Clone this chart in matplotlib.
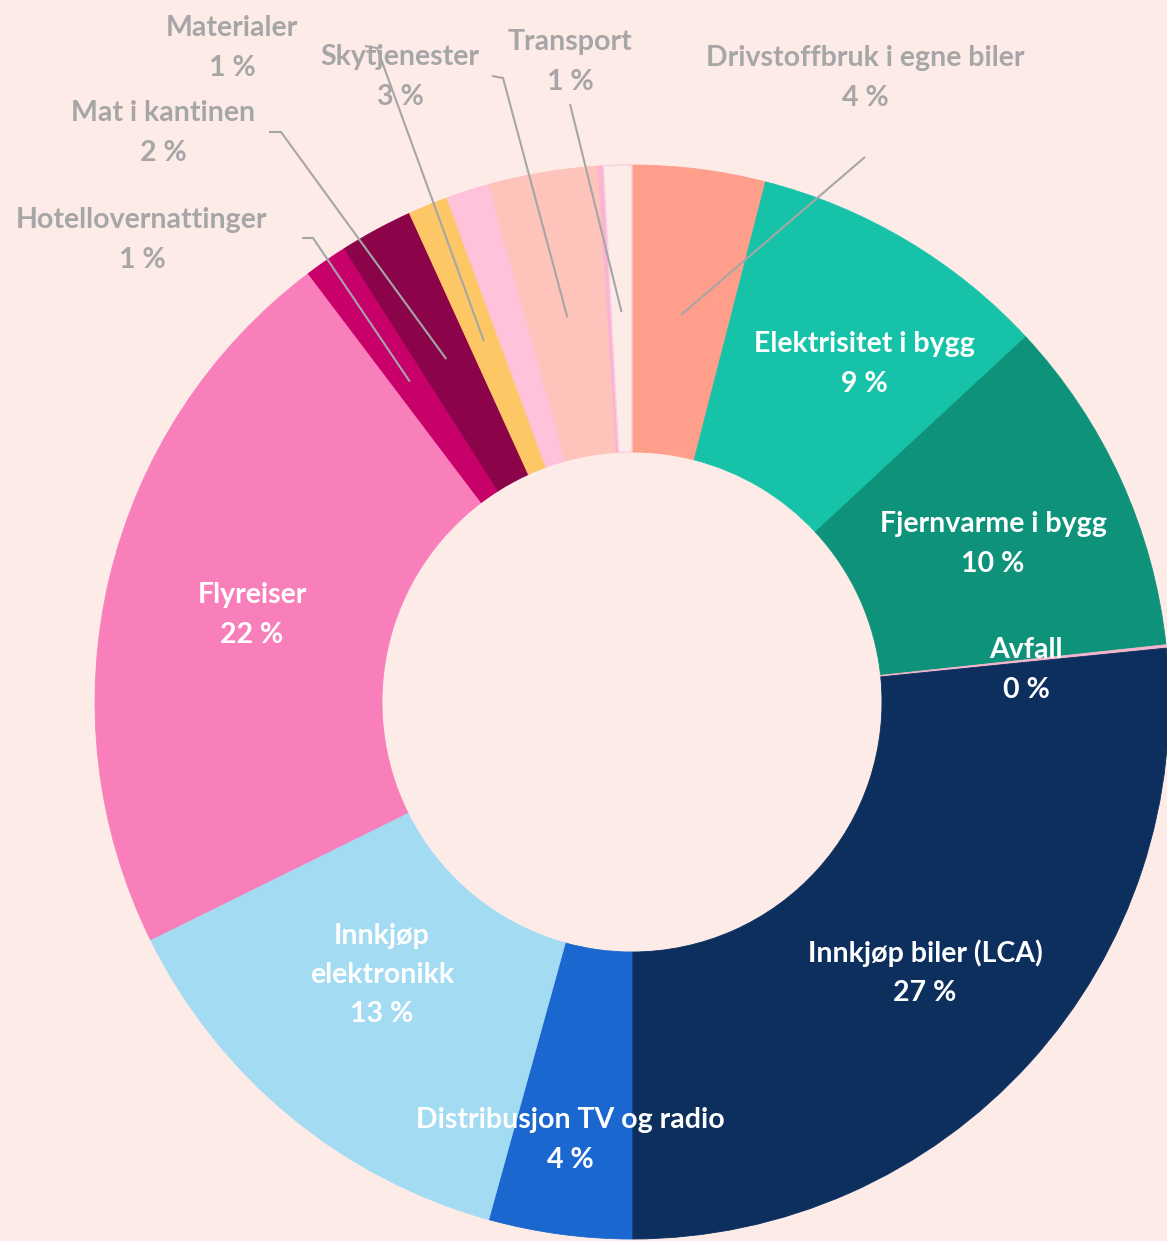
import matplotlib.pyplot as plt
import numpy as np

# ---------------- data ----------------
categories = [
    "Drivstoffbruk i egne biler", "Elektrisitet i bygg", "Fjernvarme i bygg",
    "Avfall", "Innkjøp biler (LCA)", "Distribusjon TV og radio",
    "Innkjøp elektronikk", "Flyreiser", "Hotellovernattinger",
    "Mat i kantinen", "Materialer", "", "Skytjenester", "", "Transport",
]
values = [4.0, 9.1, 10.2, 0.1, 26.6, 4.3, 13.4, 22.0, 1.3, 2.2, 1.2, 1.3, 3.3, 0.15, 0.85]
colors = [
    "#FF9E8A", "#17C3A8", "#0E937A", "#F6B6CF", "#0C2F5E", "#1A67D0",
    "#A3DBF3", "#F97FBB", "#C8006A", "#8B0349", "#FEC766", "#FEC2DA",
    "#FEC3BB", "#FBB3D3", "#FDEBE8",
]

BG = "#FDEBE8"
GRAY = "#A6A6A6"
W, H = 1167, 1241

# label layout (pixel coordinates, y downwards) -- layout only
label_text = {"Innkjøp elektronikk": "Innkjøp\nelektronikk"}
inside = {
    "Elektrisitet i bygg": (864, 364),
    "Fjernvarme i bygg": (993, 544),
    "Avfall": (1026, 670),
    "Innkjøp biler (LCA)": (925, 973),
    "Distribusjon TV og radio": (570, 1140),
    "Innkjøp elektronikk": (382, 975),
    "Flyreiser": (252, 615),
}
outside = {
    "Drivstoffbruk i egne biler": ((865, 78), [(865, 157)]),
    "Transport": ((570, 62), [(570, 104)]),
    "Skytjenester": ((400, 77), [(492, 76), (503, 78)]),
    "Materialer": ((232, 48), [(365, 46), (377, 48)]),
    "Mat i kantinen": ((163, 133), [(269, 132), (281, 132)]),
    "Hotellovernattinger": ((142, 240), [(302, 238), (313, 238)]),
}

CX, CY = 632, 702
R_OUT, R_IN = 537, 250
R_LEAD = 390

def P(x, y):
    return x, H - y

fig = plt.figure(figsize=(W / 100, H / 100), dpi=100, facecolor=BG)
ax = fig.add_axes([0, 0, 1, 1])
ax.set_facecolor(BG)

wedges, _ = ax.pie(
    values, colors=colors, startangle=90, counterclock=False,
    radius=R_OUT, center=P(CX, CY),
    wedgeprops=dict(width=R_OUT - R_IN, linewidth=0.6),
)
for w, c in zip(wedges, colors):
    w.set_edgecolor(c)
# Transport slice drawn with thin pink borders
wedges[-1].set_edgecolor("#F8D0E0")
wedges[-1].set_linewidth(1.0)

ax.set_xlim(0, W)
ax.set_ylim(0, H)
ax.set_aspect("equal")
ax.axis("off")

font = dict(family=["Lato", "DejaVu Sans"], fontweight="bold", fontsize=20.5)

def txt(name, v):
    return f"{label_text.get(name, name)}\n{int(round(v))} %"

for name, v, w in zip(categories, values, wedges):
    if not name:
        continue
    if name in inside:
        x, y = inside[name]
        ax.text(*P(x, y), txt(name, v), color="white", ha="center", va="center",
                multialignment="center", linespacing=1.62, **font)
    elif name in outside:
        (x, y), pts = outside[name]
        ax.text(*P(x, y), txt(name, v), color=GRAY, ha="center", va="center",
                multialignment="center", linespacing=1.62, **font)
        mid = np.deg2rad((w.theta1 + w.theta2) / 2)
        cx, cy = P(CX, CY)
        end = (cx + R_LEAD * np.cos(mid), cy + R_LEAD * np.sin(mid))
        xs = [P(*p)[0] for p in pts] + [end[0]]
        ys = [P(*p)[1] for p in pts] + [end[1]]
        ax.plot(xs, ys, color=GRAY, lw=1.5, solid_capstyle="butt")

fig.savefig("out.png", dpi=100, facecolor=BG)
